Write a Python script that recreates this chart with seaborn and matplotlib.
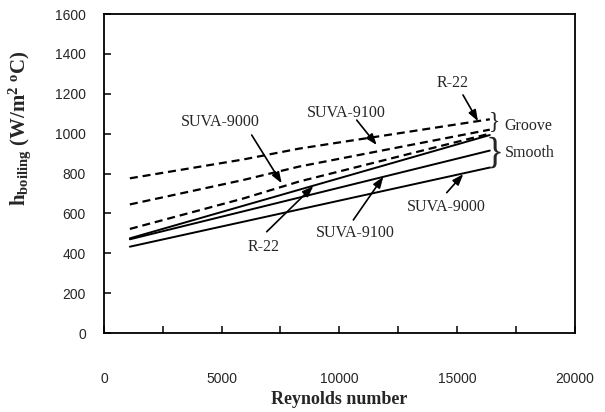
import matplotlib
matplotlib.use("Agg")
import matplotlib.pyplot as plt
import seaborn as sns
import pandas as pd
from matplotlib.ticker import MultipleLocator, FuncFormatter

# ---- data ----
re_smooth = [1100, 16400]
smooth_r22 = [475, 993]
smooth_9100 = [470, 915]
smooth_9000 = [433, 830]

re_groove = [1100, 5900, 8300, 16400]
groove_r22 = [776, 870, 925, 1072]
groove_9100 = [645, 767, 835, 1020]
groove_9000 = [522, 674, 760, 1000]

x_ticks = [0, 5000, 10000, 15000, 20000]
y_ticks = [0, 200, 400, 600, 800, 1000, 1200, 1400, 1600]

rows = []
for name, vals in [("R-22", smooth_r22), ("SUVA-9100", smooth_9100), ("SUVA-9000", smooth_9000)]:
    for x, y in zip(re_smooth, vals):
        rows.append({"Re": x, "h": y, "fluid": name, "surface": "Smooth", "key": "Smooth " + name})
for name, vals in [("R-22", groove_r22), ("SUVA-9100", groove_9100), ("SUVA-9000", groove_9000)]:
    for x, y in zip(re_groove, vals):
        rows.append({"Re": x, "h": y, "fluid": name, "surface": "Groove", "key": "Groove " + name})
df = pd.DataFrame(rows)

sns.set_style("ticks")
plt.rcParams["font.family"] = ["Liberation Sans", "DejaVu Sans"]
plt.rcParams["mathtext.fontset"] = "custom"
plt.rcParams["mathtext.rm"] = "Liberation Serif"
plt.rcParams["mathtext.bf"] = "Liberation Serif:bold"
plt.rcParams["mathtext.it"] = "Liberation Serif:italic"

fig = plt.figure(figsize=(6.05, 4.12), dpi=100)
ax = fig.add_axes([0.1719, 0.1917, 0.7777, 0.7743])

for key, sub in df.groupby("key"):
    surf = sub["surface"].iloc[0]
    if surf == "Smooth":
        sns.lineplot(data=sub, x="Re", y="h", ax=ax, color="black", lw=1.4,
                     estimator=None, sort=True, legend=False, linestyle="-")
    else:
        sns.lineplot(data=sub, x="Re", y="h", ax=ax, color="black", lw=1.6,
                     estimator=None, sort=True, legend=False, linestyle=(0, (3.6, 2.2)))

ax.set_xlim(0, 20000)
ax.set_ylim(0, 1600)
ax.xaxis.set_major_locator(MultipleLocator(2500))
ax.xaxis.set_major_formatter(FuncFormatter(lambda v, p: f"{int(v)}" if int(v) in x_ticks else ""))
ax.set_yticks(y_ticks)
ax.tick_params(direction="in", length=5, width=1.1, labelsize=10, color="black")
ax.tick_params(axis="x", pad=28)
ax.tick_params(axis="y", pad=13)
for s in ax.spines.values():
    s.set_visible(True)
    s.set_linewidth(1.3)
    s.set_color("black")

serif = ["Liberation Serif", "DejaVu Serif"]
ax.set_xlabel("Reynolds number", fontsize=13, fontweight="bold", family=serif, labelpad=4)
ax.set_ylabel(r"h$_{\mathbf{boiling}}$ (W/m$^{\mathbf{2}}$ $^{\mathbf{o}}$C)",
              fontsize=15, fontweight="bold", family=serif)
ax.yaxis.set_label_coords(-0.150, 0.643)

def txt(x, y, s, **kw):
    ax.text(x, y, s, fontsize=11.5, family=serif, ha="center", va="center", **kw)

def arrow(x0, y0, x1, y1):
    ax.annotate("", xy=(x1, y1), xytext=(x0, y0),
                arrowprops=dict(arrowstyle="-|>,head_length=0.55,head_width=0.2",
                                color="black", lw=1.2, shrinkA=0, shrinkB=0,
                                mutation_scale=12))

txt(14835, 1254, "R-22")
arrow(15260, 1194, 15898, 1062)
txt(10317, 1105, "SUVA-9100")
arrow(10742, 1068, 11592, 943)
txt(4931, 1060, "SUVA-9000")
arrow(6278, 993, 7554, 751)
txt(6773, 433, "R-22")
arrow(6916, 508, 8899, 737)
txt(10669, 503, "SUVA-9100")
arrow(10598, 567, 11873, 784)
txt(14568, 630, "SUVA-9000")
arrow(14568, 704, 15273, 797)

ax.text(16620, 1059, "}", fontsize=17, family=serif, ha="center", va="center")
ax.text(16620, 903, "}", fontsize=27, family=serif, ha="center", va="center")
ax.text(18036, 1038, "Groove", fontsize=11.5, family=serif, ha="center", va="center")
ax.text(18108, 901, "Smooth", fontsize=11.5, family=serif, ha="center", va="center")

fig.savefig("out.png", dpi=100)
